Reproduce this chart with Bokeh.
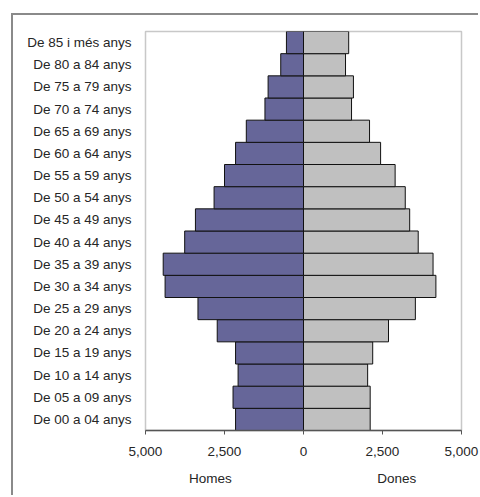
from bokeh.plotting import figure
from bokeh.models import (Range1d, FactorRange, FixedTicker, CustomJSTickFormatter,
                          LinearAxis, ColumnDataSource)
from bokeh.embed import file_html
from bokeh.resources import INLINE

categories = ["De 00 a 04 anys", "De 05 a 09 anys", "De 10 a 14 anys", "De 15 a 19 anys",
              "De 20 a 24 anys", "De 25 a 29 anys", "De 30 a 34 anys", "De 35 a 39 anys",
              "De 40 a 44 anys", "De 45 a 49 anys", "De 50 a 54 anys", "De 55 a 59 anys",
              "De 60 a 64 anys", "De 65 a 69 anys", "De 70 a 74 anys", "De 75 a 79 anys",
              "De 80 a 84 anys", "De 85 i més anys"]
homes = [2150, 2230, 2070, 2150, 2730, 3340, 4380, 4440, 3760, 3420,
         2830, 2500, 2150, 1810, 1220, 1120, 720, 540]
dones = [2110, 2110, 2030, 2190, 2690, 3540, 4190, 4100, 3630, 3360,
         3220, 2900, 2440, 2090, 1520, 1580, 1330, 1430]
x_ticks = [-5000, -2500, 0, 2500, 5000]
series_labels = ["Homes", "Dones"]
series_label_pos = [-2950, 2950]

FONT = "Liberation Sans"
FS = "13.5px"
TXT = "#262626"

p = figure(width=467, height=482, output_backend="svg", toolbar_location=None,
           y_range=FactorRange(*categories), x_range=Range1d(-5000, 5000),
           min_border_left=132, min_border_right=19, min_border_top=16, min_border_bottom=67)
p.margin = (15, 0, 0, 13)
p.styles = {"box-shadow": "-2px -2px 0 0 #8a8a8a"}

src = ColumnDataSource(dict(cat=categories, hl=[-v for v in homes], dr=dones))
p.hbar(y="cat", left="hl", right=0, height=1.0, source=src,
       fill_color="#666699", line_color="#111111", line_width=1)
p.hbar(y="cat", left=0, right="dr", height=1.0, source=src,
       fill_color="#c0c0c0", line_color="#111111", line_width=1)

p.xgrid.visible = False
p.ygrid.visible = False
p.outline_line_color = "#c8c8c8"
p.outline_line_width = 1.5
p.background_fill_color = "white"
p.border_fill_color = "white"

xa = p.xaxis[0]
xa.ticker = FixedTicker(ticks=x_ticks)
xa.formatter = CustomJSTickFormatter(code="return Math.abs(tick).toLocaleString('en-US');")
xa.axis_line_color = "#555555"
xa.axis_line_width = 1.5
xa.major_tick_line_color = "#555555"
xa.major_tick_in = 0
xa.major_tick_out = 4
xa.minor_tick_line_color = None
xa.major_label_standoff = 12
xa.major_label_text_font = FONT
xa.major_label_text_font_size = FS
xa.major_label_text_color = TXT

xa2 = LinearAxis(ticker=FixedTicker(ticks=series_label_pos),
                 major_label_overrides={v: t for v, t in zip(series_label_pos, series_labels)})
xa2.axis_line_color = None
xa2.major_tick_line_color = None
xa2.minor_tick_line_color = None
xa2.major_tick_in = 0
xa2.major_tick_out = 0
xa2.major_label_standoff = 12
xa2.major_label_text_font = FONT
xa2.major_label_text_font_size = FS
xa2.major_label_text_color = TXT
p.add_layout(xa2, "below")

ya = p.yaxis[0]
ya.axis_line_color = None
ya.major_tick_line_color = None
ya.minor_tick_line_color = None
ya.major_label_standoff = 8
ya.major_label_text_font = FONT
ya.major_label_text_font_size = FS
ya.major_label_text_color = TXT

open("out.html", "w").write(file_html(p, INLINE))
